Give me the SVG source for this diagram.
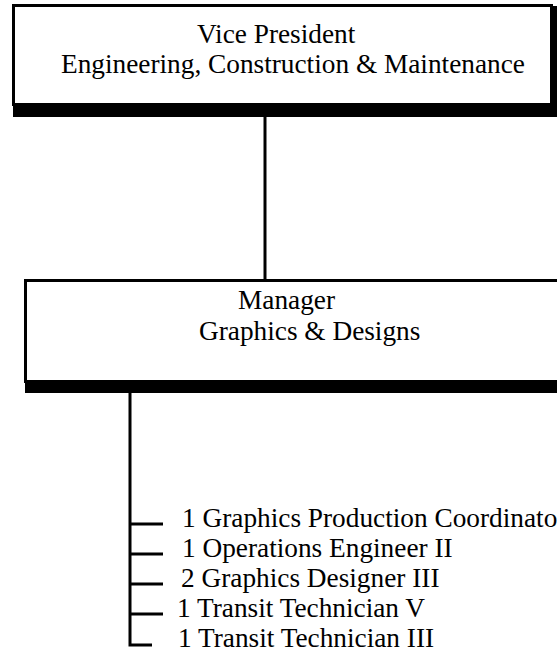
<svg xmlns="http://www.w3.org/2000/svg" width="557" height="653" viewBox="0 0 557 653">
<style>
.box{fill:#fff;stroke:#000;stroke-width:3}
.sh{fill:#000}
.t{font-family:"Liberation Serif","Times New Roman",serif;font-size:27.3px;fill:#000}
.ln{stroke:#000;stroke-width:3;fill:none}
</style>
<g id="vp">
<rect class="box" x="13.5" y="5.5" width="538" height="99"/>
<path class="sh" d="M552 6 H557 V117 H13 V104 H552 Z"/>
<text class="t" x="197" y="43">Vice President</text>
<text class="t" x="61" y="73">Engineering, Construction &amp; Maintenance</text>
</g>
<g id="mgr">
<rect class="box" x="25.5" y="280.5" width="540" height="101"/>
<path class="sh" d="M25 382 H557 V393 H25 Z"/>
<text class="t" x="238" y="309">Manager</text>
<text class="t" x="199" y="340">Graphics &amp; Designs</text>
</g>
<g id="staff">
<text class="t" x="182" y="527">1 Graphics Production Coordinator</text>
<text class="t" x="182" y="557">1 Operations Engineer II</text>
<text class="t" x="181" y="587">2 Graphics Designer III</text>
<text class="t" x="177" y="617">1 Transit Technician V</text>
<text class="t" x="178" y="647">1 Transit Technician III</text>
</g>
<g id="connectors">
<line class="ln" x1="265" y1="117" x2="265" y2="280"/>
<path class="ln" d="M130 393 V645 H152"/>
<line class="ln" x1="130" y1="524" x2="163" y2="524"/>
<line class="ln" x1="130" y1="554" x2="163" y2="554"/>
<line class="ln" x1="130" y1="584" x2="163" y2="584"/>
<line class="ln" x1="130" y1="614" x2="163" y2="614"/>
</g>
</svg>
